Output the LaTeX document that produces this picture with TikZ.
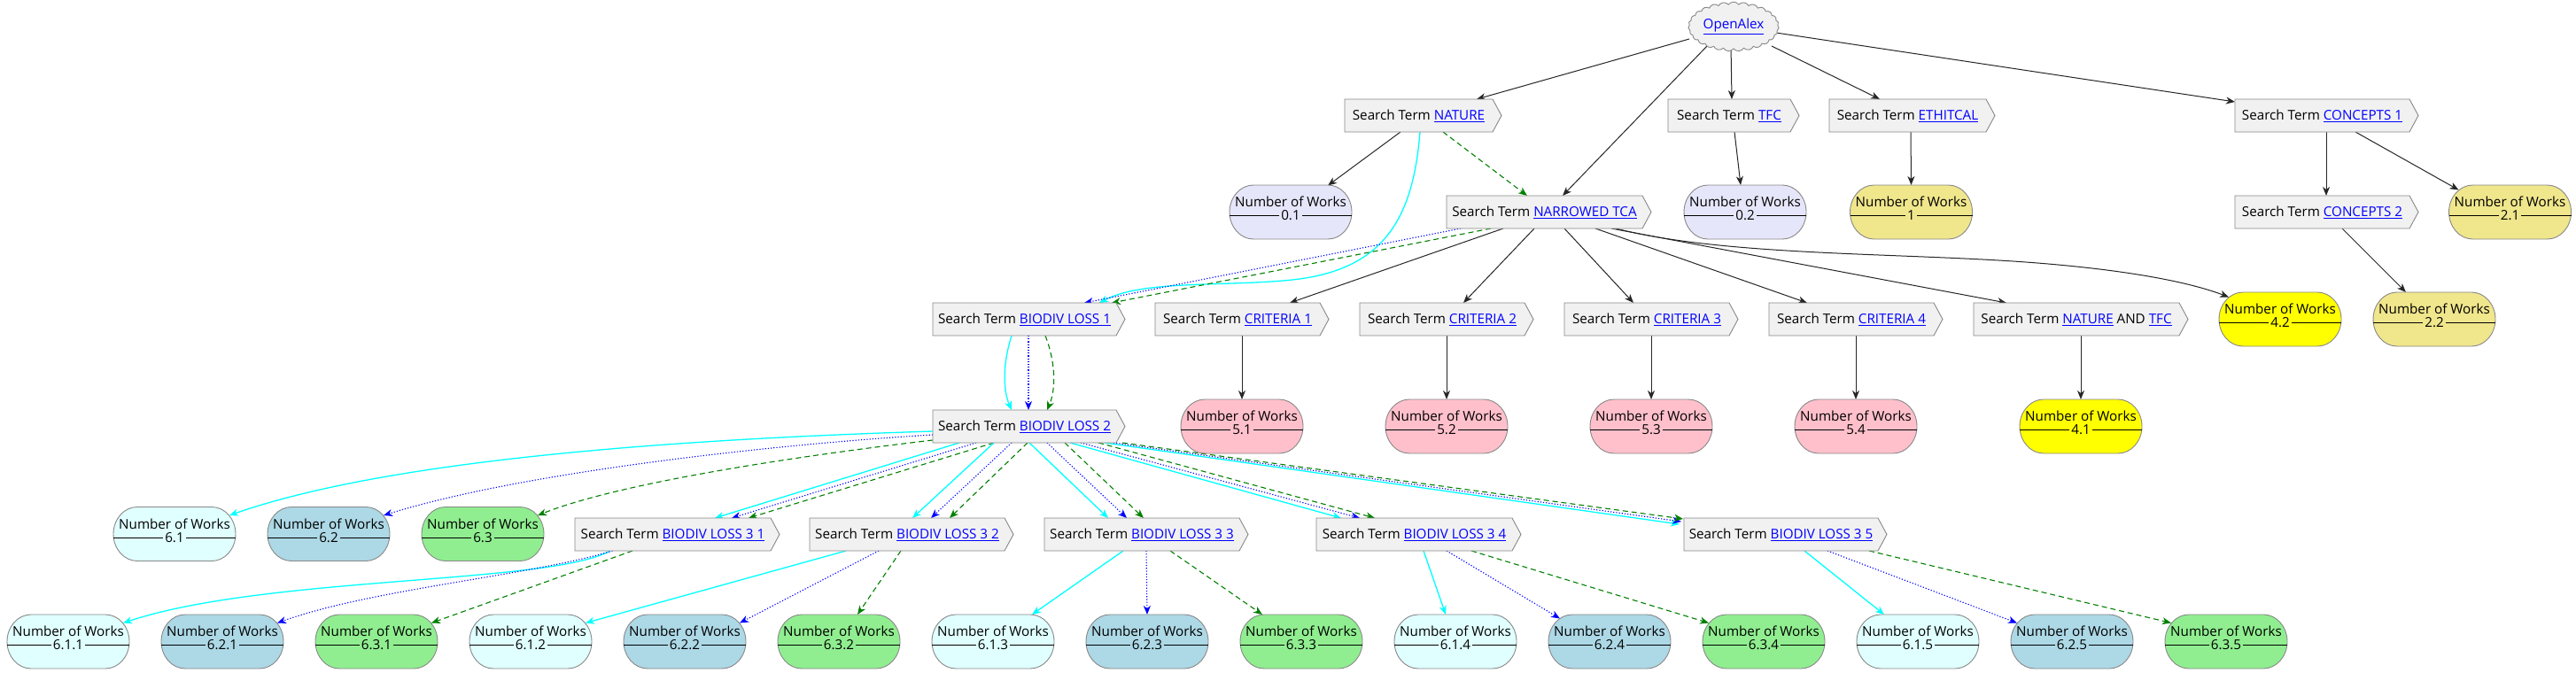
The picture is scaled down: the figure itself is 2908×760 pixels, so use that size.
\documentclass[tikz,border=0pt]{standalone}
\usepackage{fontspec}
\setmainfont{Open Sans}
\usetikzlibrary{shapes.symbols,arrows.meta}
\definecolor{boxfill}{HTML}{F1F1F1}
\definecolor{bordergray}{HTML}{888888}
\definecolor{linkblue}{HTML}{0000FF}
\definecolor{lav}{HTML}{E6E6FA}
\definecolor{khaki}{HTML}{F0E68C}
\definecolor{yel}{HTML}{FFFF00}
\definecolor{pnk}{HTML}{FFC0CB}
\definecolor{lcyan}{HTML}{E0FFFF}
\definecolor{lblue}{HTML}{ADD8E6}
\definecolor{lgreen}{HTML}{90EE90}
\definecolor{ecyan}{HTML}{00FFFF}
\definecolor{eblue}{HTML}{0000FF}
\definecolor{egreen}{HTML}{008000}
\newcommand{\lnk}[1]{\textcolor{linkblue}{\underline{#1}}}
\pgfdeclarelayer{edges}
\pgfsetlayers{edges,main}
% search-term box: name, cx, cy, width of rectangular part, text
\newcommand{\stbox}[5]{%
  \path[stshape] (#2-#4/2,#3-18.5) -- (#2+#4/2,#3-18.5) -- (#2+#4/2+10,#3) -- (#2+#4/2,#3+18.5) -- (#2-#4/2,#3+18.5) -- cycle;
  \node[sttext, minimum width=#4] (#1) at (#2,#3) {#5};
}
% number-of-works node: name, cx, cy, fill, number
\newcommand{\nwnode}[5]{%
  \path[nwshape, fill=#4] (#2-42,#3-30.5) -- (#2+42,#3-30.5) arc[start angle=-90, end angle=90, x radius=27, y radius=30.5] -- (#2-42,#3+30.5) arc[start angle=90, end angle=270, x radius=27, y radius=30.5] -- cycle;
  \node[nwbox] (#1) at (#2,#3) {};
  \draw[sepline] (#2-69,#3+4) -- (#2+69,#3+4);
  \node[nwtext] (#1t) at (#2,#3-11.5) {Number of Works};
  \node[nwtext, fill=#4, inner xsep=2pt] (#1v) at (#2,#3+4) {#5};
}
\begin{document}
\begin{tikzpicture}[x=1pt,y=-1pt,
  font=\fontsize{15.2}{17}\selectfont,
  stshape/.style={draw=bordergray, fill=boxfill, line width=0.9pt},
  sttext/.style={inner sep=0pt, minimum height=37pt, align=center},
  nwshape/.style={draw=bordergray, line width=0.9pt},
  nwbox/.style={inner sep=0pt, minimum width=138pt, minimum height=61pt},
  nwtext/.style={inner xsep=0pt, inner ysep=0pt},
  sepline/.style={draw=black, line width=1pt},
  tip/.style={-{Stealth[length=10pt,width=8pt,inset=3pt]}},
  blk/.style={tip, draw=black!85, line width=1pt},
  ecy/.style={tip, draw=ecyan, line width=1.3pt},
  ebl/.style={tip, draw=eblue, line width=1.1pt, dash pattern=on 1.2pt off 2pt},
  egr/.style={tip, draw=egreen, line width=1.1pt, dash pattern=on 6pt off 4pt},
]
\useasboundingbox (0,0) rectangle (2908,760);

% cloud
\node[cloud, draw=bordergray, fill=boxfill, line width=0.9pt, cloud puffs=27, cloud puff arc=110, aspect=2.0, minimum width=100pt, minimum height=47pt, inner sep=1pt] (oa) at (1957,30) {\lnk{OpenAlex}};

% row 1
\stbox{nat}{1601.5}{130.5}{167}{Search Term \lnk{NATURE}}
\stbox{tfc}{1952}{130.5}{138}{Search Term \lnk{TFC}}
\stbox{eth}{2153.5}{130.5}{177}{Search Term \lnk{ETHITCAL}}
\stbox{con1}{2621.5}{130.5}{197}{Search Term \lnk{CONCEPTS 1}}
% row 2
\stbox{ntca}{1743.5}{239.5}{221}{Search Term \lnk{NARROWED TCA}}
\stbox{con2}{2621.5}{239.5}{197}{Search Term \lnk{CONCEPTS 2}}
\nwnode{n01}{1457}{239.5}{lav}{0.1}
\nwnode{n02}{1970}{239.5}{lav}{0.2}
\nwnode{n1}{2157.5}{239.5}{khaki}{1}
\nwnode{n21}{2833.5}{239.5}{khaki}{2.1}
% row 3
\stbox{bl1}{1156.5}{360.5}{207}{Search Term \lnk{BIODIV LOSS 1}}
\stbox{cr1}{1397}{360.5}{186}{Search Term \lnk{CRITERIA 1}}
\stbox{cr2}{1628}{360.5}{186}{Search Term \lnk{CRITERIA 2}}
\stbox{cr3}{1859}{360.5}{186}{Search Term \lnk{CRITERIA 3}}
\stbox{cr4}{2090}{360.5}{186}{Search Term \lnk{CRITERIA 4}}
\stbox{nt}{2344}{360.5}{232}{Search Term \lnk{NATURE} AND \lnk{TFC}}
\nwnode{n42}{2574}{360.5}{yel}{4.2}
\nwnode{n22}{2748}{360.5}{khaki}{2.2}
% row 4
\stbox{bl2}{1156.5}{481.5}{207}{Search Term \lnk{BIODIV LOSS 2}}
\nwnode{n51}{1402}{481.5}{pnk}{5.1}
\nwnode{n52}{1633}{481.5}{pnk}{5.2}
\nwnode{n53}{1864}{481.5}{pnk}{5.3}
\nwnode{n54}{2095}{481.5}{pnk}{5.4}
\nwnode{n41}{2349}{481.5}{yel}{4.1}
% row 5
\nwnode{n61}{197}{603}{lcyan}{6.1}
\nwnode{n62}{371}{603}{lblue}{6.2}
\nwnode{n63}{545}{603}{lgreen}{6.3}
\stbox{b31}{759.5}{603.5}{221}{Search Term \lnk{BIODIV LOSS 3 1}}
\stbox{b32}{1024}{603.5}{220}{Search Term \lnk{BIODIV LOSS 3 2}}
\stbox{b33}{1289}{603.5}{220}{Search Term \lnk{BIODIV LOSS 3 3}}
\stbox{b34}{1596.5}{603.5}{221}{Search Term \lnk{BIODIV LOSS 3 4}}
\stbox{b35}{2010.5}{603.5}{219}{Search Term \lnk{BIODIV LOSS 3 5}}
% row 6
\nwnode{n611}{77}{724.5}{lcyan}{6.1.1}
\nwnode{n621}{251}{724.5}{lblue}{6.2.1}
\nwnode{n631}{425}{724.5}{lgreen}{6.3.1}
\nwnode{n612}{599}{724.5}{lcyan}{6.1.2}
\nwnode{n622}{773}{724.5}{lblue}{6.2.2}
\nwnode{n632}{947}{724.5}{lgreen}{6.3.2}
\nwnode{n613}{1121}{724.5}{lcyan}{6.1.3}
\nwnode{n623}{1295}{724.5}{lblue}{6.2.3}
\nwnode{n633}{1469}{724.5}{lgreen}{6.3.3}
\nwnode{n614}{1643}{724.5}{lcyan}{6.1.4}
\nwnode{n624}{1817}{724.5}{lblue}{6.2.4}
\nwnode{n634}{1991}{724.5}{lgreen}{6.3.4}
\nwnode{n615}{2165}{724.5}{lcyan}{6.1.5}
\nwnode{n625}{2339}{724.5}{lblue}{6.2.5}
\nwnode{n635}{2513}{724.5}{lgreen}{6.3.5}

\begin{pgfonlayer}{edges}
% from OpenAlex
\draw[blk] ([shift={(-50,14)}]oa.center) -- ([shift={(65.5,-18.5)}]nat.center);
\draw[blk] ([shift={(-30,22)}]oa.center) -- ([shift={(20.5,-18.5)}]ntca.center);
\draw[blk] ([shift={(-3,22)}]oa.center) -- ([shift={(3,-18.5)}]tfc.center);
\draw[blk] ([shift={(43,22)}]oa.center) -- ([shift={(-31.5,-18.5)}]eth.center);
\draw[blk] ([shift={(48,7)}]oa.center) -- ([shift={(-98.5,-15.5)}]con1.center);
% row 1 children
\draw[blk] ([shift={(-20.5,18.5)}]nat.center) -- ([shift={(42,-30)}]n01.center);
\draw[egr] ([shift={(27.5,18.5)}]nat.center) -- ([shift={(-19.5,-18.5)}]ntca.center);
\draw[ecy] ([shift={(1.5,18.5)}]nat.center) .. controls (1595,250) and (1560,305) .. (1459,316) .. controls (1380,324) and (1290,316) .. ([shift={(84.5,-18.5)}]bl1.center);
\draw[blk] ([shift={(6,18.5)}]tfc.center) -- ([shift={(-5,-30.5)}]n02.center);
\draw[blk] ([shift={(3.5,18.5)}]eth.center) -- ([shift={(0,-30.5)}]n1.center);
\draw[blk] ([shift={(4.5,18.5)}]con1.center) -- ([shift={(4.5,-18.5)}]con2.center);
\draw[blk] ([shift={(37.5,18.5)}]con1.center) -- ([shift={(-58,-25)}]n21.center);
\draw[blk] ([shift={(22.5,18.5)}]con2.center) -- ([shift={(-32,-30.5)}]n22.center);
% narrowed TCA
\draw[ebl] ([shift={(-94.5,18.5)}]ntca.center) -- ([shift={(67.5,-18.5)}]bl1.center);
\draw[egr] ([shift={(-60.5,18.5)}]ntca.center) -- ([shift={(98.5,-18.5)}]bl1.center);
\draw[blk] ([shift={(-46.5,18.5)}]ntca.center) -- ([shift={(59,-18.5)}]cr1.center);
\draw[blk] ([shift={(-11.5,18.5)}]ntca.center) -- ([shift={(24,-18.5)}]cr2.center);
\draw[blk] ([shift={(22.5,18.5)}]ntca.center) -- ([shift={(-15,-18.5)}]cr3.center);
\draw[blk] ([shift={(57.5,18.5)}]ntca.center) -- ([shift={(-50,-18.5)}]cr4.center);
\draw[blk] ([shift={(75.5,18.5)}]ntca.center) -- ([shift={(-79,-18.5)}]nt.center);
\draw[blk] ([shift={(80.5,18.5)}]ntca.center) .. controls (1950,290) and (2150,285) .. (2300,297) .. controls (2400,305) and (2470,318) .. ([shift={(-58,-25)}]n42.center);
% criteria
\draw[blk] ([shift={(5,18.5)}]cr1.center) -- ([shift={(0,-30.5)}]n51.center);
\draw[blk] ([shift={(5,18.5)}]cr2.center) -- ([shift={(0,-30.5)}]n52.center);
\draw[blk] ([shift={(5,18.5)}]cr3.center) -- ([shift={(0,-30.5)}]n53.center);
\draw[blk] ([shift={(5,18.5)}]cr4.center) -- ([shift={(0,-30.5)}]n54.center);
\draw[blk] ([shift={(5,18.5)}]nt.center) -- ([shift={(0,-30.5)}]n41.center);
% biodiv loss 1 -> 2
\draw[ecy] ([shift={(-14.5,18.5)}]bl1.center) .. controls (1132,410) and (1132,440) .. ([shift={(-14.5,-18.5)}]bl2.center);
\draw[ebl] ([shift={(4.5,18.5)}]bl1.center) -- ([shift={(4.5,-18.5)}]bl2.center);
\draw[egr] ([shift={(23.5,18.5)}]bl1.center) .. controls (1192,410) and (1192,440) .. ([shift={(25.5,-18.5)}]bl2.center);
% biodiv loss 2 -> 6.x
\draw[ecy] ([shift={(-103.5,5.5)}]bl2.center) .. controls (800,495) and (450,515) .. ([shift={(62,-21)}]n61.center);
\draw[ebl] ([shift={(-103.5,9.5)}]bl2.center) .. controls (900,500) and (600,530) .. ([shift={(62,-21)}]n62.center);
\draw[egr] ([shift={(-103.5,15.5)}]bl2.center) .. controls (900,515) and (700,545) .. ([shift={(62,-21)}]n63.center);
% biodiv loss 2 -> 3 k
\draw[ecy] ([shift={(-73.5,18.5)}]bl2.center) -- ([shift={(47.5,-18.5)}]b31.center);
\draw[ebl] ([shift={(-54.5,18.5)}]bl2.center) -- ([shift={(66.5,-18.5)}]b31.center);
\draw[egr] ([shift={(-34.5,18.5)}]bl2.center) -- ([shift={(85.5,-18.5)}]b31.center);
\draw[ecy] ([shift={(-34.5,18.5)}]bl2.center) -- ([shift={(6,-18.5)}]b32.center);
\draw[ebl] ([shift={(-14.5,18.5)}]bl2.center) -- ([shift={(27,-18.5)}]b32.center);
\draw[egr] ([shift={(3.5,18.5)}]bl2.center) -- ([shift={(48,-18.5)}]b32.center);
\draw[ecy] ([shift={(5.5,18.5)}]bl2.center) -- ([shift={(-38,-18.5)}]b33.center);
\draw[ebl] ([shift={(25.5,18.5)}]bl2.center) -- ([shift={(-17,-18.5)}]b33.center);
\draw[egr] ([shift={(45.5,18.5)}]bl2.center) -- ([shift={(2,-18.5)}]b33.center);
\draw[ecy] ([shift={(51.5,18.5)}]bl2.center) -- ([shift={(-82.5,-18.5)}]b34.center);
\draw[ebl] ([shift={(63.5,18.5)}]bl2.center) -- ([shift={(-61.5,-18.5)}]b34.center);
\draw[egr] ([shift={(83.5,18.5)}]bl2.center) -- ([shift={(-44.5,-18.5)}]b34.center);
\draw[ecy] ([shift={(90.5,18.5)}]bl2.center) -- ([shift={(-114.5,-11.5)}]b35.center);
\draw[ebl] ([shift={(100.5,18.5)}]bl2.center) -- ([shift={(-112.5,-14.5)}]b35.center);
\draw[egr] ([shift={(110.5,18.5)}]bl2.center) -- ([shift={(-110.5,-17.5)}]b35.center);
% biodiv loss 3 k -> 6.x.k
\draw[ecy] ([shift={(-70.5,18.5)}]b31.center) .. controls (620,660) and (300,650) .. ([shift={(62,-21)}]n611.center);
\draw[ebl] ([shift={(-68,18.5)}]b31.center) .. controls (600,650) and (420,665) .. ([shift={(62,-21)}]n621.center);
\draw[egr] ([shift={(-45.5,18.5)}]b31.center) -- ([shift={(62,-21)}]n631.center);
\draw[ecy] ([shift={(-69,18.5)}]b32.center) -- ([shift={(62,-21)}]n612.center);
\draw[ebl] ([shift={(-32,18.5)}]b32.center) -- ([shift={(62,-21)}]n622.center);
\draw[egr] ([shift={(-7,18.5)}]b32.center) -- ([shift={(21,-30.5)}]n632.center);
\draw[ecy] ([shift={(-21,18.5)}]b33.center) -- ([shift={(44,-30.5)}]n613.center);
\draw[ebl] ([shift={(5,18.5)}]b33.center) -- ([shift={(0,-30.5)}]n623.center);
\draw[egr] ([shift={(32,18.5)}]b33.center) -- ([shift={(-44,-30.5)}]n633.center);
\draw[ecy] ([shift={(10.5,18.5)}]b34.center) -- ([shift={(-11,-30.5)}]n614.center);
\draw[ebl] ([shift={(36.5,18.5)}]b34.center) -- ([shift={(-56,-26)}]n624.center);
\draw[egr] ([shift={(64.5,18.5)}]b34.center) -- ([shift={(-62,-21)}]n634.center);
\draw[ecy] ([shift={(26.5,18.5)}]b35.center) -- ([shift={(-38,-30.5)}]n615.center);
\draw[ebl] ([shift={(52.5,18.5)}]b35.center) -- ([shift={(-62,-21)}]n625.center);
\draw[egr] ([shift={(99.5,18.5)}]b35.center) -- ([shift={(-62,-21)}]n635.center);
\end{pgfonlayer}
\end{tikzpicture}
\end{document}
